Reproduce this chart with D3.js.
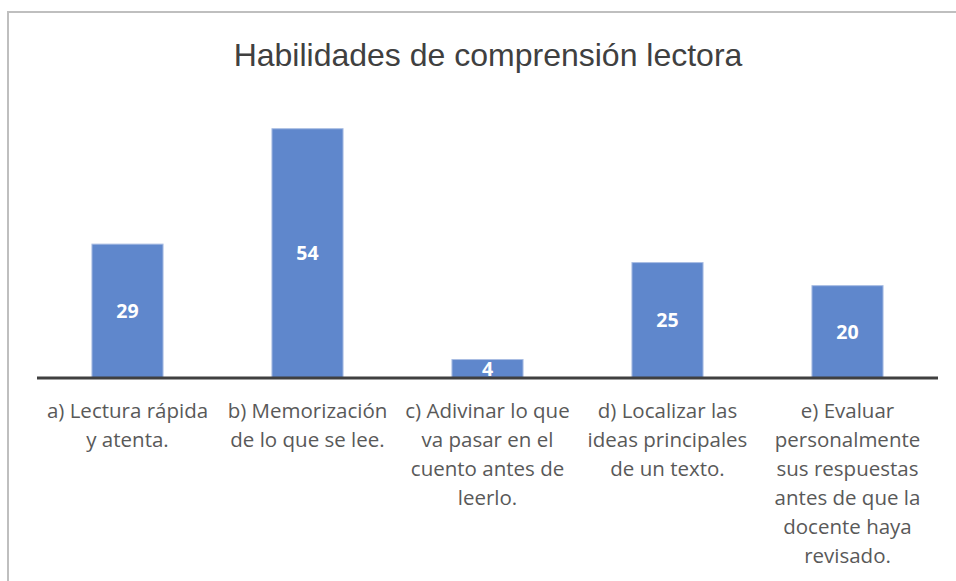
<!DOCTYPE html>
<html>
<head>
<meta charset="utf-8">
<script src="https://cdn.jsdelivr.net/npm/d3@7"></script>
<style>
  html, body { margin: 0; padding: 0; background: #fff; }
  svg { display: block; }
</style>
</head>
<body>
<svg id="chart" width="956" height="581"></svg>
<script>
const title = "Habilidades de comprensión lectora";
const categories = [
  ["a) Lectura rápida", "y atenta."],
  ["b) Memorización", "de lo que se lee."],
  ["c) Adivinar lo que", "va pasar en el", "cuento antes de", "leerlo."],
  ["d) Localizar las", "ideas principales", "de un texto."],
  ["e) Evaluar", "personalmente", "sus respuestas", "antes de que la", "docente haya", "revisado."]
];
const values = [29, 54, 4, 25, 20];

const svg = d3.select("#chart");

svg.append("rect")
  .attr("x", 8).attr("y", 12)
  .attr("width", 1000).attr("height", 700)
  .attr("fill", "none")
  .attr("stroke", "#bfbfbf")
  .attr("stroke-width", 2);

svg.append("text")
  .attr("x", 488).attr("y", 66)
  .attr("text-anchor", "middle")
  .attr("font-family", "'Liberation Sans', Arial, sans-serif")
  .attr("font-size", 32)
  .attr("fill", "#404040")
  .text(title);

const x = d3.scaleBand()
  .domain(d3.range(values.length))
  .range([37.5, 937.5])
  .paddingInner(0.605)
  .paddingOuter(0.3025);

const y = d3.scaleLinear()
  .domain([0, 60])
  .range([378, 101]);

const g = svg.append("g");

g.selectAll("rect.bar")
  .data(values)
  .join("rect")
  .attr("class", "bar")
  .attr("x", (d, i) => x(i))
  .attr("y", d => y(d))
  .attr("width", x.bandwidth())
  .attr("height", d => y(0) - y(d))
  .attr("fill", "#5f87cc")
  .attr("stroke", "#a9bde3")
  .attr("stroke-width", 1);

g.selectAll("text.val")
  .data(values)
  .join("text")
  .attr("class", "val")
  .attr("x", (d, i) => x(i) + x.bandwidth() / 2)
  .attr("y", d => (y(d) + y(0)) / 2)
  .attr("dy", "0.36em")
  .attr("text-anchor", "middle")
  .attr("font-family", "'Open Sans', Lato, sans-serif")
  .attr("font-weight", "bold")
  .attr("font-size", 19.5)
  .attr("fill", "#ffffff")
  .text(d => d);

svg.append("line")
  .attr("x1", 37).attr("x2", 938)
  .attr("y1", y(0)).attr("y2", y(0))
  .attr("stroke", "#404040")
  .attr("stroke-width", 3);

const lab = svg.selectAll("text.cat")
  .data(categories)
  .join("text")
  .attr("class", "cat")
  .attr("text-anchor", "middle")
  .attr("font-family", "'Open Sans', Lato, sans-serif")
  .attr("font-size", 20.5)
  .attr("fill", "#595959");

lab.each(function(lines, i) {
  const t = d3.select(this);
  lines.forEach((ln, j) => {
    t.append("tspan")
      .attr("x", x(i) + x.bandwidth() / 2)
      .attr("y", 418 + j * 29)
      .text(ln);
  });
});
</script>
</body>
</html>
